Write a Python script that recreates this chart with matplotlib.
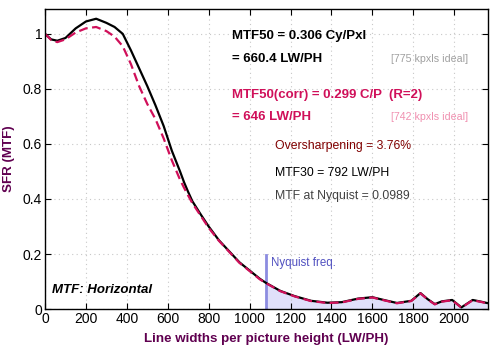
import numpy as np
import matplotlib
matplotlib.use('Agg')
import matplotlib.pyplot as plt

plt.rcParams['font.family'] = ['Liberation Sans', 'DejaVu Sans']

# frequency axis (LW/PH) and measured MTF
lw = [0, 30, 60, 100, 150, 200, 250, 300, 340, 380, 420, 460, 500, 540, 580,
      620, 660, 680, 700, 720, 760, 800, 850, 900, 950, 1000, 1050, 1080, 1150,
      1220, 1300, 1380, 1450, 1530, 1600, 1650, 1720, 1790, 1835, 1870, 1905,
      1940, 1990, 2035, 2090, 2130, 2160]
mtf = [1.0, 0.98, 0.975, 0.985, 1.02, 1.045, 1.055, 1.04, 1.025, 1.0, 0.94,
       0.875, 0.81, 0.74, 0.665, 0.575, 0.50, 0.46, 0.425, 0.392, 0.345, 0.30,
       0.25, 0.21, 0.17, 0.14, 0.11, 0.095, 0.066, 0.047, 0.03, 0.023, 0.025,
       0.038, 0.043, 0.034, 0.022, 0.03, 0.058, 0.036, 0.018, 0.028, 0.033,
       0.006, 0.033, 0.027, 0.022]
mtf_corr = [1.0, 0.978, 0.97, 0.98, 1.005, 1.02, 1.025, 1.01, 0.99, 0.955,
            0.89, 0.81, 0.745, 0.69, 0.62, 0.54, 0.47, 0.44, 0.412, 0.385,
            0.34, 0.295, 0.248, 0.208, 0.168, 0.138, 0.108, 0.094, 0.065,
            0.046, 0.029, 0.022, 0.024, 0.037, 0.042, 0.033, 0.021, 0.029,
            0.057, 0.035, 0.017, 0.027, 0.032, 0.005, 0.032, 0.026, 0.021]
nyquist = 1080

lw = np.array(lw)
mtf = np.array(mtf)

fig = plt.figure(figsize=(5, 3.5), dpi=100)
ax = fig.add_axes([0.09, 0.117, 0.886, 0.857])

# shaded area above Nyquist
m = lw >= nyquist
ax.fill_between(lw[m], 0, mtf[m], color='#e0e0fa', lw=0)
ax.plot([nyquist, nyquist], [0, 0.196], color='#8c8ce0', lw=2)
ax.text(nyquist + 25, 0.19, 'Nyquist freq.', color='#5050c0', fontsize=8.3, va='top')

ax.plot(lw, mtf, color='black', lw=1.6)
ax.plot(lw, mtf_corr, color='#d0105a', lw=1.6, dashes=(4, 2))

ax.set_xlim(0, 2165)
ax.set_ylim(0, 1.09)
ax.set_xticks(range(0, 2001, 200))
ax.set_yticks([0, 0.2, 0.4, 0.6, 0.8, 1])
ax.set_yticklabels(['0', '0.2', '0.4', '0.6', '0.8', '1'])
ax.tick_params(direction='in', length=4, top=True, right=True, labelsize=10, pad=2)
ax.grid(True, color='#c8c8c8', ls=(0, (1, 3)), lw=0.8)
for s in ax.spines.values():
    s.set_linewidth(1)

purple = '#600050'
ax.set_xlabel('Line widths per picture height (LW/PH)', color=purple,
              fontweight='bold', fontsize=9.6, labelpad=5)
ax.set_ylabel('SFR (MTF)', color=purple, fontweight='bold', fontsize=9.6, labelpad=6)

# annotations, placed in axes fraction
tf = ax.transAxes
ax.text(0.422, 0.91, 'MTF50 = 0.306 Cy/Pxl', transform=tf, fontsize=9.5,
        fontweight='bold', va='center')
ax.text(0.422, 0.835, '= 660.4 LW/PH', transform=tf, fontsize=9.5,
        fontweight='bold', va='center')
ax.text(0.956, 0.835, '[775 kpxls ideal]', transform=tf, fontsize=7.7,
        color='#a0a0a0', va='center', ha='right')
ax.text(0.422, 0.715, 'MTF50(corr) = 0.299 C/P  (R=2)', transform=tf,
        fontsize=9.5, fontweight='bold', color='#d0105a', va='center')
ax.text(0.422, 0.64, '= 646 LW/PH', transform=tf, fontsize=9.5,
        fontweight='bold', color='#d0105a', va='center')
ax.text(0.956, 0.64, '[742 kpxls ideal]', transform=tf, fontsize=7.7,
        color='#f090b0', va='center', ha='right')
ax.text(0.52, 0.545, 'Oversharpening = 3.76%', transform=tf, fontsize=8.8,
        color='#800000', va='center')
ax.text(0.52, 0.455, 'MTF30 = 792 LW/PH', transform=tf, fontsize=8.8,
        color='black', va='center')
ax.text(0.52, 0.378, 'MTF at Nyquist = 0.0989', transform=tf, fontsize=8.8,
        color='#404040', va='center')
ax.text(0.016, 0.065, 'MTF: Horizontal', transform=tf, fontsize=9.5,
        fontweight='bold', fontstyle='italic', va='center')

fig.savefig('out.png', dpi=100)
